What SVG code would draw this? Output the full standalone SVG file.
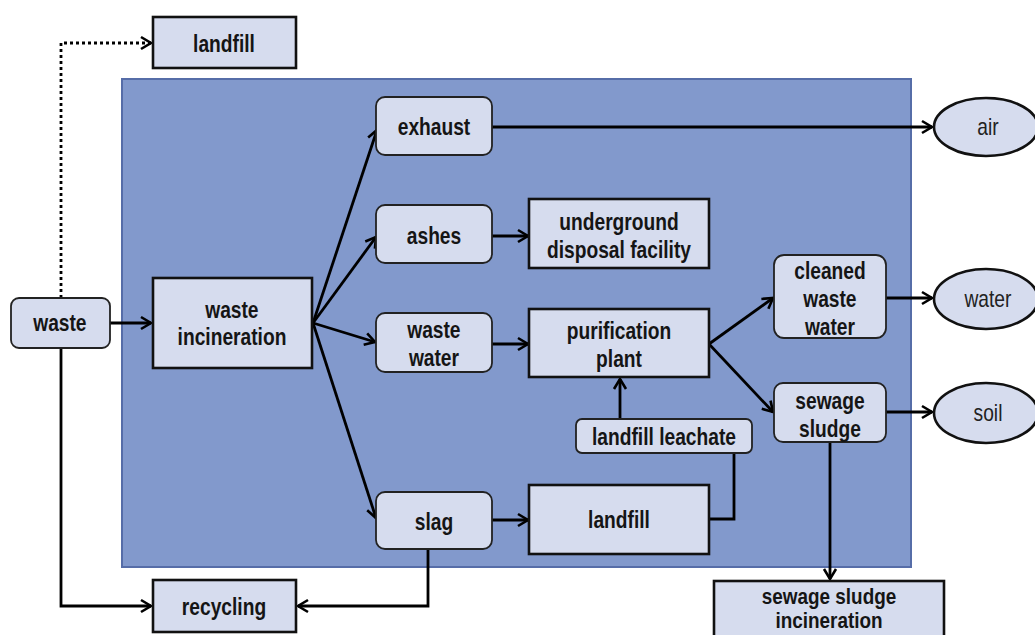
<svg xmlns="http://www.w3.org/2000/svg" width="1035" height="635" viewBox="0 0 1035 635">
<defs>
<marker id="arr" markerUnits="userSpaceOnUse" markerWidth="16" markerHeight="16" refX="12" refY="7" orient="auto" overflow="visible">
<path d="M2,1 L12,7 L2,13" fill="none" stroke="#000" stroke-width="2.6" stroke-linejoin="miter"/>
</marker>
</defs>
<style>
.box{fill:#d6dcee;stroke:#111;stroke-width:2.6}
.rbox{fill:#d6dcee;stroke:#222;stroke-width:1.8}
.ell{fill:#d6dcee;stroke:#111;stroke-width:2.6}
.t,.tn{font-family:"Liberation Sans",Arial,sans-serif;font-size:24px;text-anchor:middle;transform-box:fill-box;transform-origin:center;transform:scaleX(0.8)}
.t{font-weight:bold;fill:#151515}
.tn{fill:#222}
.sm{font-size:21.5px;transform:scaleX(0.88)}
.c{fill:none;stroke:#000;stroke-width:2.8;marker-end:url(#arr)}
.cn{fill:none;stroke:#000;stroke-width:2.8}
</style>
<rect id="panel" x="122" y="79" width="789" height="488" fill="#8299cc" stroke="#566da8" stroke-width="2"/>
<g id="connectors">
<path class="c" d="M61,298 V43 H151" stroke-dasharray="3,3"/>
<path class="c" d="M110,323 H151"/>
<path class="c" d="M61,348 V606 H151"/>
<path class="c" d="M428,549 V606 H298"/>
<path class="c" d="M313,323 L377,130"/>
<path class="c" d="M313,323 L376,237"/>
<path class="c" d="M313,323 L375,342"/>
<path class="c" d="M313,323 L376,518"/>
<path class="c" d="M492,127 H932"/>
<path class="c" d="M492,236 H528"/>
<path class="c" d="M492,344 H528"/>
<path class="c" d="M492,520 H528"/>
<path class="c" d="M709,344 L773,298"/>
<path class="c" d="M709,344 L773,412"/>
<path class="c" d="M620,418 V379"/>
<path class="cn" d="M709,519 H734 V453"/>
<path class="c" d="M886,298 H932"/>
<path class="c" d="M886,412 H932"/>
<path class="c" d="M830,442 V579"/>
</g>
<g id="landfill_top"><rect class="box" x="153" y="17" width="143" height="51"/><text class="t" x="224" y="52">landfill</text></g>
<g id="waste"><rect class="rbox" x="11" y="298" width="99" height="50" rx="8"/><text class="t" x="60" y="331">waste</text></g>
<g id="waste_incineration"><rect class="box" x="153" y="278" width="159" height="90"/><text class="t" x="232" y="318">waste</text><text class="t" x="232" y="345">incineration</text></g>
<g id="exhaust"><rect class="rbox" x="376" y="97" width="116" height="58" rx="9"/><text class="t" x="434" y="135">exhaust</text></g>
<g id="ashes"><rect class="rbox" x="376" y="205" width="116" height="58" rx="9"/><text class="t" x="434" y="244">ashes</text></g>
<g id="underground"><rect class="box" x="529" y="199" width="180" height="69"/><text class="t" x="619" y="230">underground</text><text class="t" x="619" y="258">disposal facility</text></g>
<g id="waste_water"><rect class="rbox" x="376" y="313" width="116" height="59" rx="9"/><text class="t" x="434" y="338">waste</text><text class="t" x="434" y="366">water</text></g>
<g id="purification"><rect class="box" x="529" y="309" width="180" height="68"/><text class="t" x="619" y="339">purification</text><text class="t" x="619" y="367">plant</text></g>
<g id="cleaned"><rect class="rbox" x="774" y="255" width="112" height="83" rx="10"/><text class="t" x="830" y="279">cleaned</text><text class="t" x="830" y="307">waste</text><text class="t" x="830" y="335">water</text></g>
<g id="sewage_sludge"><rect class="rbox" x="774" y="383" width="112" height="59" rx="9"/><text class="t" x="830" y="409">sewage</text><text class="t" x="830" y="437">sludge</text></g>
<g id="leachate"><rect class="rbox" x="576" y="419" width="176" height="34" rx="6"/><text class="t" x="664" y="445">landfill leachate</text></g>
<g id="slag"><rect class="rbox" x="376" y="492" width="116" height="57" rx="9"/><text class="t" x="434" y="530">slag</text></g>
<g id="landfill_inner"><rect class="box" x="529" y="485" width="180" height="69"/><text class="t" x="619" y="528">landfill</text></g>
<g id="recycling"><rect class="box" x="153" y="580" width="143" height="52"/><text class="t" x="224" y="615">recycling</text></g>
<g id="sludge_incineration"><rect class="box" x="714" y="581" width="230" height="70"/><text class="t sm" x="829" y="604">sewage sludge</text><text class="t sm" x="829" y="628">incineration</text></g>
<g id="air"><ellipse class="ell" cx="986" cy="127" rx="52" ry="29"/><text class="tn" x="988" y="135">air</text></g>
<g id="water"><ellipse class="ell" cx="986" cy="299" rx="52" ry="30"/><text class="tn" x="988" y="307">water</text></g>
<g id="soil"><ellipse class="ell" cx="986" cy="413" rx="52" ry="30"/><text class="tn" x="988" y="421">soil</text></g>
</svg>
